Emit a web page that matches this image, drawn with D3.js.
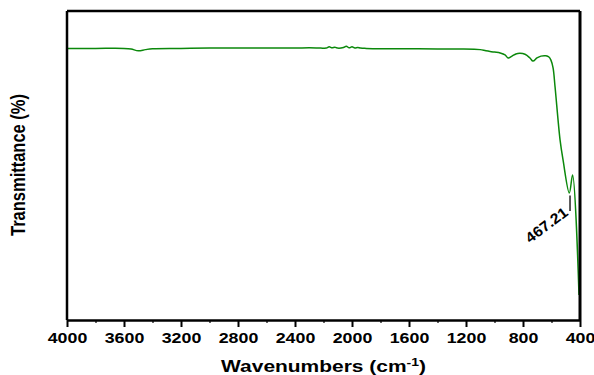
<!DOCTYPE html>
<html>
<head>
<meta charset="utf-8">
<script src="https://cdn.jsdelivr.net/npm/d3@7"></script>
<style>
  body { margin: 0; background: #fff; }
  text { font-family: "Liberation Sans", Arial, sans-serif; }
</style>
</head>
<body>
<div id="chart"></div>
<script>
// FTIR spectrum
const wavenumbers = [4000, 3800, 3600, 3550, 3500, 3450, 3400, 3200, 3000, 2800, 2600, 2400, 2300, 2220,
  2180, 2160, 2140, 2120, 2100, 2060, 2040, 2020, 2000, 1980, 1960, 1940, 1900, 1800, 1600, 1400, 1250,
  1100, 1060, 1000, 960, 926, 905, 877, 850, 821, 786, 751, 730, 702, 674, 639, 618, 604, 589, 575,
  540, 519, 475, 452, 407];
const transmittance = [87.9, 87.9, 87.9, 87.7, 87.1, 87.5, 87.8, 87.9, 88.0, 88.0, 88.0, 88.0, 88.1, 88.0,
  88.0, 88.4, 88.1, 88.3, 88.0, 88.2, 88.6, 88.1, 88.4, 88.0, 88.2, 88.0, 87.9, 87.8, 87.8, 87.7, 87.7,
  87.5, 87.1, 86.7, 86.4, 85.8, 84.8, 85.4, 86.1, 86.3, 86.0, 84.8, 83.8, 84.8, 85.4, 85.5, 85.1, 84.1,
  81.6, 75.4, 58.3, 51.8, 41.1, 46.9, 8.1];
const xTicks = [4000, 3600, 3200, 2800, 2400, 2000, 1600, 1200, 800, 400];
const minorTicks = d3.range(3800, 400, -400);
const peakLabel = "467.21";
const peakAt = 470;

const W = 594, H = 375;
const margin = { top: 11, right: 14, bottom: 55, left: 67 };
const innerW = W - margin.left - margin.right;
const innerH = H - margin.top - margin.bottom;
const stretch = 1.27; // horizontal text in the picture is widened

const svg = d3.select("#chart").append("svg")
  .attr("width", W)
  .attr("height", H);

const g = svg.append("g").attr("transform", `translate(${margin.left},${margin.top})`);

const x = d3.scaleLinear().domain([4000, 400]).range([0, innerW]);
const y = d3.scaleLinear().domain([0, 100]).range([innerH, 0]);

const data = wavenumbers.map((w, i) => ({ w, t: transmittance[i] }));

const line = d3.line()
  .x(d => x(d.w))
  .y(d => y(d.t))
  .curve(d3.curveCatmullRom.alpha(0.5));

g.append("path")
  .datum(data)
  .attr("fill", "none")
  .attr("stroke", "#0b880b")
  .attr("stroke-width", 1.5)
  .attr("stroke-linejoin", "miter")
  .attr("d", line);

// minor ticks
g.append("g")
  .attr("transform", `translate(0,${innerH})`)
  .call(d3.axisBottom(x).tickValues(minorTicks).tickSize(3).tickFormat(""))
  .call(a => a.select(".domain").remove())
  .call(a => a.selectAll("line").attr("stroke-width", 1.2));

// main axis
g.append("g")
  .attr("transform", `translate(0,${innerH})`)
  .call(d3.axisBottom(x).tickValues(xTicks).tickSize(7).tickSizeOuter(0).tickFormat(d3.format("d")))
  .call(a => a.select(".domain").attr("stroke-width", 2.5))
  .call(a => a.selectAll("line").attr("stroke-width", 2))
  .call(a => a.selectAll("text")
    .attr("y", 13)
    .attr("transform", `scale(${stretch},1)`)
    .attr("font-size", 14)
    .attr("font-weight", "bold")
    .attr("fill", "#000"));

// frame
g.append("line").attr("x1", 0).attr("x2", 0).attr("y1", 0).attr("y2", innerH)
  .attr("stroke", "#000").attr("stroke-width", 2.5);
g.append("line").attr("x1", 0).attr("x2", innerW).attr("y1", 0).attr("y2", 0)
  .attr("stroke", "#000").attr("stroke-width", 2.5);
g.append("line").attr("x1", innerW).attr("x2", innerW).attr("y1", 0).attr("y2", innerH)
  .attr("stroke", "#000").attr("stroke-width", 3);

// peak annotation
g.append("line")
  .attr("x1", x(peakAt)).attr("x2", x(peakAt))
  .attr("y1", y(40.3)).attr("y2", y(35.3))
  .attr("stroke", "#222").attr("stroke-width", 1.5);
g.append("text")
  .attr("transform", `translate(${x(peakAt) - 1},${y(34.2)}) rotate(-37) scale(1.1,1)`)
  .attr("text-anchor", "end")
  .attr("font-size", 14.5)
  .attr("font-weight", "bold")
  .text(peakLabel);

// axis titles
const xt = svg.append("text")
  .attr("transform", `translate(${margin.left + innerW / 2},372) scale(${stretch},1)`)
  .attr("text-anchor", "middle")
  .attr("font-size", 16.5)
  .attr("font-weight", "bold");
xt.append("tspan").text("Wavenumbers (cm");
xt.append("tspan").attr("dy", -6).attr("font-size", 11).text("-1");
xt.append("tspan").attr("dy", 6).text(")");

svg.append("text")
  .attr("transform", `translate(25,${165}) rotate(-90) scale(1,${stretch})`)
  .attr("text-anchor", "middle")
  .attr("font-size", 16.5)
  .attr("font-weight", "bold")
  .text("Transmittance (%)");
</script>
</body>
</html>
